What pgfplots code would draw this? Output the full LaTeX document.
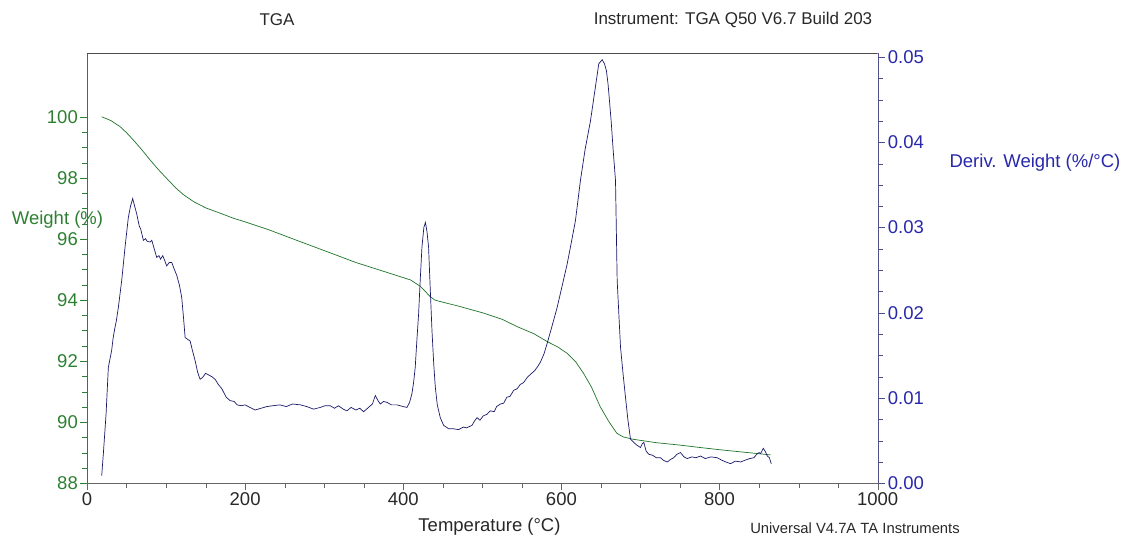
\documentclass[border=0pt]{standalone}
\usepackage{fontspec}
\setmainfont{Liberation Sans}
\usepackage{pgfplots}
\pgfplotsset{compat=1.18}
\definecolor{wgreen}{RGB}{45,128,50}
\definecolor{lgreen}{RGB}{30,115,40}
\definecolor{dblue}{RGB}{40,40,170}
\definecolor{lblue}{RGB}{25,25,105}
\definecolor{rblue}{RGB}{80,80,140}
\definecolor{txt}{RGB}{40,40,40}

\pgfplotstableread{
T W
18.6 100.00
30 99.88
41.8 99.68
50 99.48
58.6 99.24
70 98.90
79.7 98.59
90 98.28
102 97.95
112 97.68
122 97.45
135 97.22
150 97.02
170 96.83
185 96.68
200 96.56
230 96.30
270 95.91
300 95.62
340 95.23
380 94.90
409 94.66
421 94.46
428 94.28
434 94.11
440 94.00
447 93.95
470 93.80
502 93.57
525 93.37
544 93.13
565 92.90
582 92.64
595 92.47
607 92.26
618 91.98
628 91.60
638 91.15
649 90.51
660 90.02
670 89.64
678 89.52
691 89.44
720 89.33
750 89.25
776 89.17
800 89.10
830 89.02
864.6 88.93
}\weight

\pgfplotstableread{
T D
18.6 0.0009
20.7 0.0035
24.1 0.0081
27 0.0136
31.2 0.0156
33 0.0170
35.4 0.0183
37 0.0190
39.6 0.0206
43.9 0.0238
48.1 0.0277
52.3 0.0312
55 0.0325
57.8 0.0334
60 0.0326
62.9 0.0316
66 0.0302
68 0.0298
71.3 0.0285
74 0.0287
76 0.0284
79.7 0.0283
82 0.0285
85 0.0275
88.2 0.0265
91 0.0267
93 0.0263
95.8 0.0267
98 0.0262
100.8 0.0255
104 0.0259
107.2 0.0259
110 0.0252
113.5 0.0244
117 0.0232
119.8 0.0218
122 0.0195
124.1 0.0171
127 0.0169
130.4 0.0167
133 0.0157
136.7 0.0144
140 0.0130
143 0.0122
146 0.0124
150 0.0129
154 0.0127
158 0.0125
162 0.0122
166 0.0116
170.5 0.0111
176 0.0101
181 0.0097
186 0.0096
190 0.0092
195 0.0091
200 0.0092
206 0.0089
212.7 0.0086
220 0.0088
227.4 0.0090
235 0.0091
244 0.0092
252 0.0090
260 0.0093
270 0.0092
278 0.0090
286.5 0.0087
295 0.0089
301 0.0091
307.6 0.0091
313 0.0088
318 0.0091
324 0.0087
328.7 0.0085
334 0.0089
340 0.0086
345 0.0088
349.8 0.0084
356 0.0089
361 0.0093
364.6 0.0103
368 0.0097
370.9 0.0093
375 0.0096
379.3 0.0095
385 0.0092
392 0.0092
400 0.0090
404.6 0.0089
408 0.0095
410.9 0.0105
413 0.0118
415.1 0.0136
417 0.0165
419.4 0.0199
421.5 0.0240
423.6 0.0277
426 0.0300
428 0.0306
430 0.0295
432 0.0277
434 0.0230
436.3 0.0179
438.5 0.0140
440.5 0.0113
443 0.0092
446.8 0.0077
451 0.0068
457.3 0.0064
463 0.0064
470 0.0063
476 0.0066
480 0.0065
486.9 0.0068
490 0.0073
493.3 0.0077
497 0.0074
501 0.0079
505.9 0.0081
510 0.0085
515 0.0084
518 0.0090
522.8 0.0093
527 0.0094
531 0.0101
535 0.0102
539.6 0.0109
544 0.0111
548 0.0116
552 0.0118
556.6 0.0124
561 0.0128
566 0.0132
570 0.0137
573.4 0.0142
578 0.0152
581.9 0.0164
588 0.0184
594.5 0.0206
601 0.0232
607.2 0.0257
612 0.0280
617.7 0.0308
624 0.0355
630 0.0392
636.7 0.0425
643 0.0465
647.2 0.0492
651.5 0.0497
654.5 0.0492
656.9 0.0484
659 0.0468
661.1 0.0445
662.9 0.0425
665.5 0.0390
668.4 0.0355
670.5 0.0238
674.7 0.0160
678 0.0128
681 0.0101
684 0.0075
687.3 0.0052
691.5 0.0048
695 0.0045
700 0.0042
702 0.0046
704.2 0.0048
707 0.0038
710.5 0.0034
715 0.0033
720 0.0030
725.3 0.0030
729 0.0027
733.8 0.0025
738 0.0028
742 0.0030
746 0.0034
750.6 0.0036
755 0.0031
759.1 0.0029
765 0.0031
770 0.0030
776 0.0032
782 0.0029
789 0.0031
797 0.0030
803 0.0027
808 0.0025
813.9 0.0023
820 0.0026
826.6 0.0025
832 0.0027
838 0.0029
843.4 0.0030
847 0.0034
849.8 0.0036
852 0.0035
855.3 0.0041
858 0.0037
860.4 0.0032
863 0.0030
865.4 0.0023
}\deriv

\begin{document}
\begin{tikzpicture}[x=1pt,y=1pt]
\useasboundingbox (0,0) rectangle (1126,537);
\pgfplotsset{
  every axis/.append style={
    at={(87pt,53.7pt)}, anchor=south west,
    scale only axis, width=790.7pt, height=430.3pt,
    xmin=0, xmax=1000,
    tick align=outside, major tick length=7pt, minor tick length=5pt,
    ticklabel style={font=\fontsize{18.5}{22}\selectfont, inner sep=2pt},
    /pgf/number format/assume math mode=true,
    /pgf/number format/1000 sep={},
    axis line style={-},
  }
}
\begin{axis}[
  ymin=88, ymax=102.09,
  axis y line*=left, axis x line*=bottom,
  xtick={0,200,...,1000}, ytick={88,90,...,100},
  minor x tick num=3, minor y tick num=3,
  xticklabel style={text=txt},
  yticklabel style={text=wgreen},
  x axis line style={-,draw=black!60},
  y axis line style={-,draw=wgreen},
  x tick style={draw=black!60},
  y tick style={draw=wgreen},
]
\addplot[lgreen, line width=0.7pt] table[x=T,y=W] {\weight};
\draw[black!70, line width=0.8pt] (rel axis cs:0,1) -- (rel axis cs:1,1);
\end{axis}
\begin{axis}[
  ymin=0, ymax=0.05048,
  axis y line*=right, axis x line=none,
  ytick={0,0.01,0.02,0.03,0.04,0.05},
  minor y tick num=3,
  scaled y ticks=false,
  yticklabel style={text=dblue, inner sep=3pt, /pgf/number format/.cd, fixed, fixed zerofill, precision=2},
  y axis line style={-,draw=rblue},
  y tick style={draw=rblue},
]
\addplot[lblue, line width=0.7pt] table[x=T,y=D] {\deriv};
\end{axis}
\node[text=txt, font=\fontsize{17}{20}\selectfont] at (277,517) {TGA};
\node[text=txt, font=\fontsize{17}{20}\selectfont] at (733,517) {Instrument: TGA Q50 V6.7 Build 203};
\node[text=wgreen, font=\fontsize{18.5}{22}\selectfont] at (57.5,317) {Weight (\%)};
\node[text=dblue, font=\fontsize{18.5}{22}\selectfont] at (1035,374) {Deriv. Weight (\%/°C)};
\node[text=txt, font=\fontsize{18.5}{22}\selectfont] at (489.5,10) {Temperature (°C)};
\node[text=txt, font=\fontsize{14.8}{18}\selectfont] at (855,9) {Universal V4.7A TA Instruments};
\end{tikzpicture}
\end{document}
